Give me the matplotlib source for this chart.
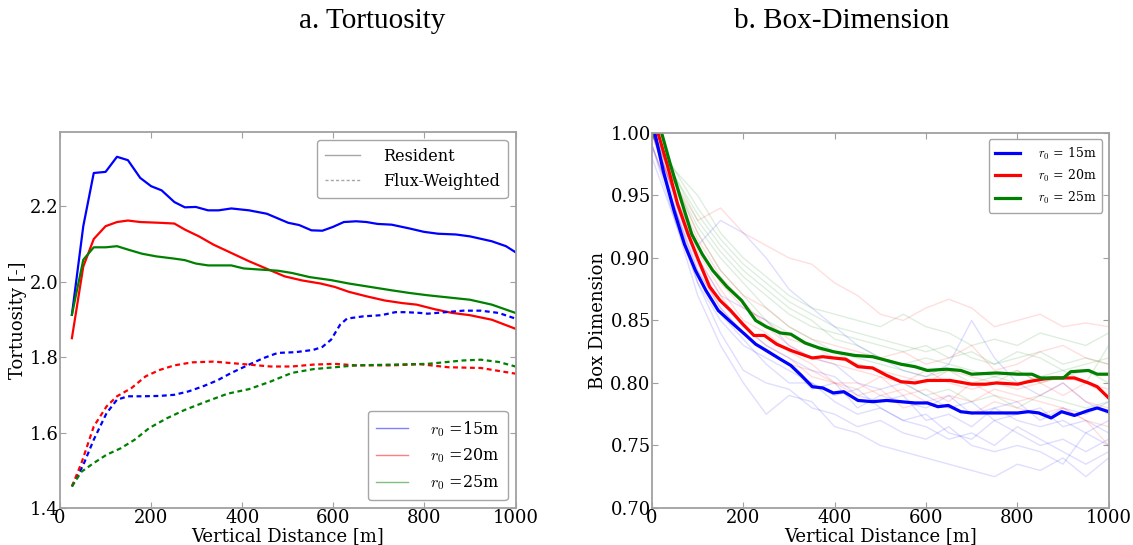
import numpy as np
import matplotlib
matplotlib.use("Agg")
import matplotlib.pyplot as plt
from matplotlib.lines import Line2D

plt.rcParams['font.family'] = 'DejaVu Serif'
plt.rcParams['mathtext.fontset'] = 'cm'

# ---- panel a: tortuosity (resident = solid, flux-weighted = dashed)
blue_res_x = [26, 51, 74, 100, 125, 149, 176, 200, 223, 251, 274, 298, 325, 348, 376, 415, 454, 501, 525,
              552, 576, 599, 623, 650, 673, 697, 728, 767, 799, 830, 869, 900, 948, 979, 1000]
blue_res_y = [1.912, 2.147, 2.288, 2.291, 2.331, 2.322, 2.275, 2.253, 2.242, 2.211, 2.197, 2.198, 2.189, 2.189,
              2.194, 2.189, 2.18, 2.156, 2.15, 2.136, 2.135, 2.145, 2.158, 2.16, 2.158, 2.153, 2.151, 2.141,
              2.132, 2.127, 2.125, 2.12, 2.107, 2.094, 2.078]
red_res_x = [26, 51, 74, 100, 125, 149, 176, 219, 251, 274, 305, 337, 376, 415, 454, 493, 532, 572, 603,
             634, 673, 713, 752, 783, 822, 861, 900, 948, 1000]
red_res_y = [1.85, 2.04, 2.113, 2.147, 2.158, 2.162, 2.158, 2.156, 2.154, 2.138, 2.12, 2.098, 2.076, 2.054,
             2.034, 2.014, 2.003, 1.995, 1.986, 1.973, 1.961, 1.95, 1.943, 1.939, 1.927, 1.917, 1.911, 1.899,
             1.875]
green_res_x = [26, 51, 74, 100, 125, 149, 180, 211, 251, 274, 298, 325, 352, 376, 403, 439, 478, 509, 548,
               595, 634, 681, 728, 767, 806, 853, 900, 948, 1000]
green_res_y = [1.912, 2.058, 2.091, 2.091, 2.094, 2.085, 2.074, 2.067, 2.061, 2.057, 2.048, 2.043, 2.043,
               2.043, 2.035, 2.032, 2.029, 2.023, 2.012, 2.004, 1.995, 1.986, 1.977, 1.97, 1.964, 1.958,
               1.952, 1.939, 1.917]

blue_flux_x = [26, 51, 74, 102, 125, 149, 180, 219, 251, 282, 313, 345, 376, 415, 446, 478, 517, 556, 576,
               595, 615, 630, 666, 705, 736, 760, 791, 807, 846, 885, 924, 963, 1000]
blue_flux_y = [1.457, 1.514, 1.581, 1.651, 1.687, 1.696, 1.696, 1.697, 1.7, 1.709, 1.722, 1.738, 1.758, 1.78,
               1.797, 1.811, 1.813, 1.819, 1.827, 1.846, 1.886, 1.902, 1.908, 1.911, 1.919, 1.919, 1.917,
               1.915, 1.919, 1.923, 1.923, 1.917, 1.902]
red_flux_x = [26, 47, 74, 102, 125, 157, 188, 219, 251, 290, 337, 376, 415, 462, 509, 556, 603, 650, 728,
              791, 853, 924, 1000]
red_flux_y = [1.457, 1.519, 1.616, 1.669, 1.696, 1.718, 1.749, 1.766, 1.778, 1.786, 1.788, 1.784, 1.78,
              1.775, 1.775, 1.78, 1.782, 1.778, 1.778, 1.781, 1.773, 1.771, 1.756]
green_flux_x = [26, 47, 74, 102, 133, 164, 196, 235, 274, 321, 368, 415, 462, 509, 556, 603, 650, 728, 807,
                885, 924, 963, 1000]
green_flux_y = [1.457, 1.496, 1.519, 1.541, 1.558, 1.581, 1.612, 1.638, 1.66, 1.682, 1.703, 1.715, 1.735,
                1.758, 1.768, 1.773, 1.778, 1.78, 1.782, 1.791, 1.793, 1.787, 1.775]

# ---- panel b: box dimension, mean curves
blue_box_x = [0, 25, 48, 71, 95, 118, 145, 172, 203, 227, 250, 281, 304, 327, 351, 374, 397, 420, 451, 483,
              514, 545, 576, 603, 626, 649, 676, 700, 754, 801, 824, 847, 874, 897, 925, 956, 975, 1000]
blue_box_y = [1.01, 0.969, 0.938, 0.911, 0.89, 0.874, 0.858, 0.849, 0.839, 0.831, 0.826, 0.819, 0.814,
              0.806, 0.797, 0.796, 0.792, 0.793, 0.786, 0.785, 0.786, 0.785, 0.784, 0.784, 0.781, 0.782,
              0.777, 0.776, 0.776, 0.776, 0.777, 0.776, 0.772, 0.777, 0.774, 0.778, 0.78, 0.777]
red_box_x = [0, 13, 33, 56, 79, 102, 126, 149, 172, 199, 223, 246, 273, 304, 335, 351, 374, 397, 424, 451,
             483, 514, 545, 576, 603, 653, 700, 731, 754, 801, 824, 855, 878, 925, 956, 975, 1000]
red_box_y = [1.02, 1.0, 0.975, 0.943, 0.919, 0.898, 0.877, 0.866, 0.858, 0.847, 0.838, 0.838, 0.831, 0.826,
             0.822, 0.82, 0.821, 0.82, 0.819, 0.813, 0.812, 0.806, 0.801, 0.8, 0.802, 0.802, 0.799, 0.799,
             0.8, 0.799, 0.801, 0.803, 0.804, 0.804, 0.8, 0.797, 0.788]
green_box_x = [0, 21, 40, 64, 87, 110, 133, 164, 196, 227, 250, 281, 304, 335, 366, 397, 444, 483, 514, 545,
               576, 603, 645, 676, 700, 754, 801, 832, 851, 878, 901, 917, 956, 975, 1000]
green_box_y = [1.03, 1.0, 0.975, 0.946, 0.919, 0.903, 0.89, 0.877, 0.866, 0.85, 0.845, 0.84, 0.839, 0.832,
               0.828, 0.825, 0.822, 0.821, 0.818, 0.815, 0.813, 0.81, 0.811, 0.81, 0.807, 0.808, 0.807,
               0.807, 0.804, 0.804, 0.804, 0.809, 0.81, 0.807, 0.807]

# individual realisations (faint), sampled every 50 m
real_x = list(range(0, 1001, 50))
blue_real = [
    [0.99, 0.93, 0.87, 0.83, 0.80, 0.775, 0.79, 0.785, 0.765, 0.76, 0.75, 0.745, 0.74, 0.735, 0.73, 0.725, 0.735, 0.73, 0.74, 0.725, 0.74],
    [1.0, 0.95, 0.91, 0.93, 0.92, 0.90, 0.875, 0.86, 0.845, 0.83, 0.82, 0.81, 0.805, 0.815, 0.85, 0.82, 0.80, 0.79, 0.80, 0.785, 0.775],
    [1.0, 0.94, 0.88, 0.85, 0.83, 0.82, 0.81, 0.80, 0.79, 0.795, 0.78, 0.77, 0.775, 0.76, 0.755, 0.77, 0.76, 0.75, 0.755, 0.745, 0.755],
    [0.99, 0.94, 0.89, 0.86, 0.84, 0.825, 0.815, 0.795, 0.80, 0.78, 0.79, 0.785, 0.78, 0.79, 0.775, 0.78, 0.785, 0.77, 0.78, 0.775, 0.785],
    [1.0, 0.95, 0.90, 0.87, 0.86, 0.85, 0.83, 0.82, 0.815, 0.80, 0.795, 0.80, 0.79, 0.78, 0.785, 0.77, 0.775, 0.78, 0.765, 0.77, 0.76],
    [0.98, 0.93, 0.88, 0.84, 0.81, 0.80, 0.795, 0.78, 0.775, 0.765, 0.77, 0.76, 0.755, 0.765, 0.75, 0.745, 0.75, 0.745, 0.735, 0.76, 0.75],
    [1.0, 0.945, 0.895, 0.865, 0.845, 0.83, 0.82, 0.81, 0.805, 0.79, 0.785, 0.79, 0.77, 0.775, 0.765, 0.78, 0.77, 0.765, 0.77, 0.76, 0.77],
    [0.99, 0.94, 0.885, 0.855, 0.835, 0.815, 0.80, 0.80, 0.785, 0.775, 0.78, 0.77, 0.765, 0.755, 0.76, 0.75, 0.765, 0.755, 0.745, 0.735, 0.745],
]
red_real = [
    [1.0, 0.96, 0.93, 0.94, 0.92, 0.91, 0.90, 0.895, 0.88, 0.87, 0.855, 0.85, 0.86, 0.867, 0.86, 0.845, 0.85, 0.855, 0.845, 0.848, 0.845],
    [1.0, 0.95, 0.91, 0.88, 0.86, 0.85, 0.835, 0.83, 0.82, 0.815, 0.81, 0.805, 0.80, 0.81, 0.805, 0.80, 0.795, 0.80, 0.805, 0.80, 0.79],
    [0.99, 0.94, 0.89, 0.86, 0.84, 0.825, 0.815, 0.81, 0.80, 0.79, 0.795, 0.78, 0.785, 0.78, 0.775, 0.785, 0.78, 0.775, 0.78, 0.77, 0.765],
    [1.0, 0.96, 0.92, 0.89, 0.87, 0.86, 0.845, 0.835, 0.83, 0.825, 0.82, 0.825, 0.815, 0.82, 0.83, 0.81, 0.815, 0.825, 0.83, 0.82, 0.815],
    [1.0, 0.95, 0.90, 0.87, 0.845, 0.83, 0.82, 0.805, 0.80, 0.80, 0.79, 0.795, 0.785, 0.79, 0.785, 0.795, 0.79, 0.785, 0.78, 0.77, 0.75],
    [1.0, 0.955, 0.915, 0.885, 0.865, 0.845, 0.83, 0.82, 0.815, 0.81, 0.805, 0.80, 0.81, 0.80, 0.795, 0.80, 0.81, 0.80, 0.79, 0.80, 0.795],
    [1.0, 0.95, 0.905, 0.875, 0.85, 0.84, 0.825, 0.815, 0.80, 0.795, 0.805, 0.79, 0.795, 0.785, 0.80, 0.79, 0.785, 0.79, 0.80, 0.785, 0.78],
]
green_real = [
    [1.0, 0.97, 0.95, 0.92, 0.90, 0.885, 0.87, 0.86, 0.855, 0.85, 0.845, 0.855, 0.845, 0.84, 0.83, 0.835, 0.83, 0.84, 0.835, 0.83, 0.84],
    [1.0, 0.965, 0.93, 0.905, 0.885, 0.87, 0.855, 0.845, 0.84, 0.835, 0.83, 0.825, 0.83, 0.82, 0.825, 0.815, 0.82, 0.825, 0.815, 0.82, 0.815],
    [1.0, 0.96, 0.92, 0.89, 0.87, 0.85, 0.84, 0.83, 0.825, 0.82, 0.815, 0.81, 0.805, 0.81, 0.80, 0.805, 0.81, 0.80, 0.805, 0.81, 0.80],
    [1.0, 0.965, 0.935, 0.91, 0.89, 0.875, 0.86, 0.85, 0.835, 0.83, 0.82, 0.815, 0.82, 0.815, 0.81, 0.805, 0.80, 0.805, 0.81, 0.80, 0.83],
    [1.0, 0.96, 0.925, 0.90, 0.88, 0.86, 0.845, 0.835, 0.825, 0.815, 0.81, 0.80, 0.79, 0.795, 0.785, 0.79, 0.78, 0.79, 0.785, 0.78, 0.785],
    [1.0, 0.97, 0.94, 0.915, 0.895, 0.88, 0.865, 0.855, 0.845, 0.84, 0.835, 0.83, 0.825, 0.83, 0.82, 0.815, 0.825, 0.82, 0.81, 0.815, 0.82],
]

labels = [r'$r_0$ =15m', r'$r_0$ =20m', r'$r_0$ =25m']
labels_b = [r'$r_0$ = 15m', r'$r_0$ = 20m', r'$r_0$ = 25m']
green = (0, 0.5, 0)


def style_axes(ax):
    for s in ax.spines.values():
        s.set_color('#a0a0a0')
        s.set_linewidth(1.3)
    ax.tick_params(direction='in', top=True, right=True, color='#a0a0a0',
                   labelsize=13, length=4, pad=1)


fig = plt.figure(figsize=(11.33, 5.45), dpi=100)
ax1 = fig.add_axes([0.053, 0.068, 0.402, 0.690])
ax2 = fig.add_axes([0.5755, 0.068, 0.403, 0.688])

dash = (0, (2.2, 1.6))
ax1.plot(blue_res_x, blue_res_y, color='blue', lw=1.6)
ax1.plot(red_res_x, red_res_y, color='red', lw=1.6)
ax1.plot(green_res_x, green_res_y, color=green, lw=1.6)
ax1.plot(blue_flux_x, blue_flux_y, color='blue', lw=1.6, linestyle=dash)
ax1.plot(red_flux_x, red_flux_y, color='red', lw=1.6, linestyle=dash)
ax1.plot(green_flux_x, green_flux_y, color=green, lw=1.6, linestyle=dash)
ax1.set_xlim(0, 1000)
ax1.set_ylim(1.4, 2.397)
ax1.set_yticks([1.4, 1.6, 1.8, 2.0, 2.2])
ax1.set_xticks([0, 200, 400, 600, 800, 1000])
ax1.set_xlabel('Vertical Distance [m]', fontsize=13, labelpad=0)
ax1.set_ylabel('Tortuosity [-]', fontsize=13, labelpad=2)
style_axes(ax1)

h_style = [Line2D([], [], color='gray', lw=1, alpha=0.7),
           Line2D([], [], color='gray', lw=1, alpha=0.7, linestyle=dash)]
leg1 = ax1.legend(h_style, ['Resident', 'Flux-Weighted'], loc='upper right', fontsize=11.5,
                  handlelength=2.2, handletextpad=1.4, borderpad=0.5, fancybox=True)
leg1.get_frame().set_edgecolor('#909090')
ax1.add_artist(leg1)
h_r = [Line2D([], [], color=c, lw=1, alpha=0.5) for c in ['blue', 'red', green]]
leg2 = ax1.legend(h_r, labels, loc='lower right', fontsize=11.5, handlelength=2.0,
                  handletextpad=1.4, borderpad=0.5, labelspacing=0.5, fancybox=True)
leg2.get_frame().set_edgecolor('#909090')

for ys in blue_real:
    ax2.plot(real_x, ys, color='blue', lw=1, alpha=0.13)
for ys in red_real:
    ax2.plot(real_x, ys, color='red', lw=1, alpha=0.13)
for ys in green_real:
    ax2.plot(real_x, ys, color=green, lw=1, alpha=0.13)
ax2.plot(blue_box_x, blue_box_y, color='blue', lw=2.3, label=labels_b[0])
ax2.plot(red_box_x, red_box_y, color='red', lw=2.3, label=labels_b[1])
ax2.plot(green_box_x, green_box_y, color=green, lw=2.3, label=labels_b[2])
ax2.set_xlim(0, 1000)
ax2.set_ylim(0.70, 1.00)
ax2.set_yticks([0.70, 0.75, 0.80, 0.85, 0.90, 0.95, 1.00])
ax2.set_yticklabels(['0.70', '0.75', '0.80', '0.85', '0.90', '0.95', '1.00'])
ax2.set_xticks([0, 200, 400, 600, 800, 1000])
ax2.set_xlabel('Vertical Distance [m]', fontsize=13, labelpad=0)
ax2.set_ylabel('Box Dimension', fontsize=13, labelpad=2)
style_axes(ax2)
leg3 = ax2.legend(loc='upper right', fontsize=9, handlelength=2.0, handletextpad=1.4,
                  borderpad=0.5, fancybox=True)
leg3.get_frame().set_edgecolor('#909090')

fig.text(372 / 1133, 1 - 21 / 545, 'a. Tortuosity', family='Liberation Serif',
         fontsize=21, ha='center', va='center')
fig.text(842 / 1133, 1 - 21 / 545, 'b. Box-Dimension', family='Liberation Serif',
         fontsize=21, ha='center', va='center')

fig.savefig('out.png', dpi=100)
